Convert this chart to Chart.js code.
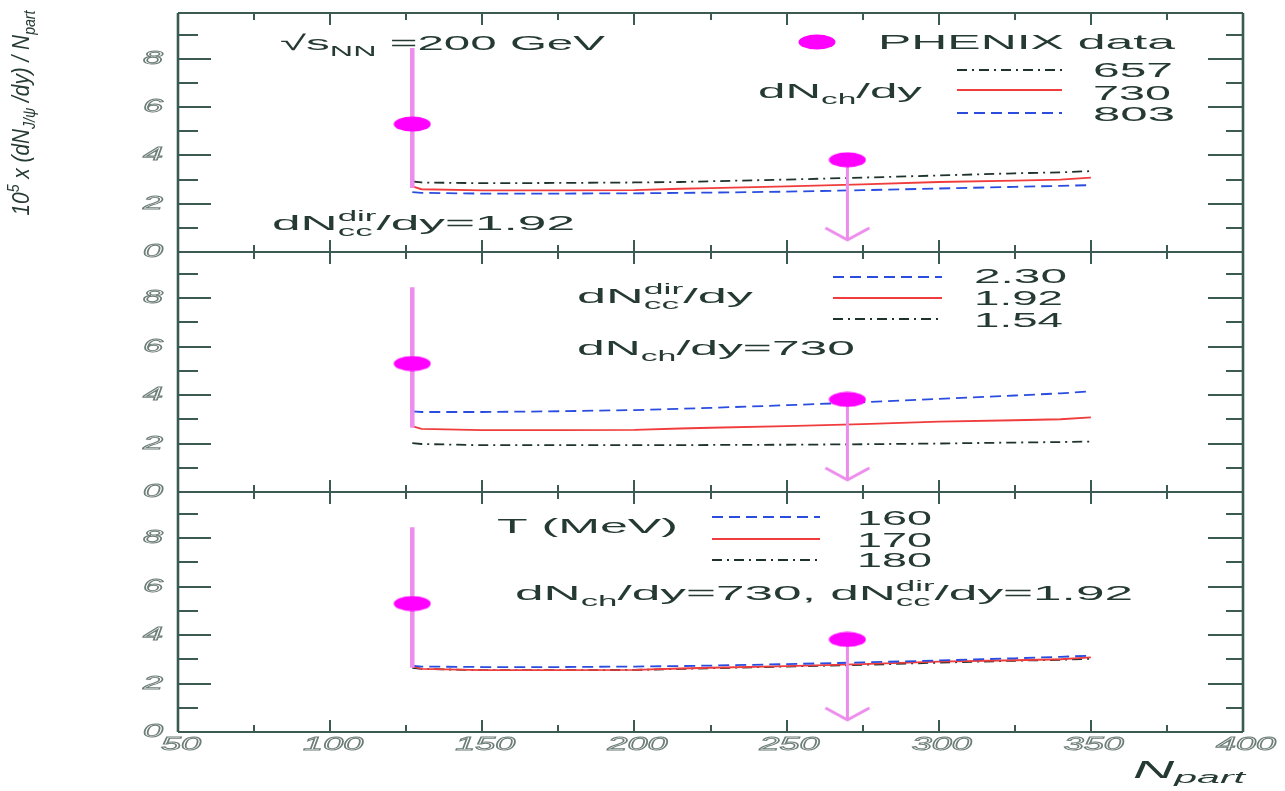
<!DOCTYPE html>
<html>
<head>
<meta charset="utf-8">
<script src="https://cdn.jsdelivr.net/npm/chart.js@4.4.1/dist/chart.umd.min.js"></script>
<style>
  html, body { margin: 0; padding: 0; background: #ffffff; }
  #wrap { position: relative; width: 1285px; height: 791px; }
  #wrap canvas { position: absolute; left: 0; top: 0; }
</style>
</head>
<body>
<div id="wrap">
  <canvas id="p1" width="1285" height="791"></canvas>
  <canvas id="p2" width="1285" height="791"></canvas>
  <canvas id="p3" width="1285" height="791"></canvas>
</div>
<script>
// ---- data -------------------------------------------------------------
// Number of participants at which the model curves are evaluated
const N_PART = [127, 130, 150, 175, 200, 215, 225, 250, 275, 300, 325, 340, 350];

// Panel 1: charged multiplicity dN_ch/dy varied
const NCH_657 = [2.92, 2.88, 2.85, 2.86, 2.88, 2.90, 2.93, 3.00, 3.08, 3.17, 3.26, 3.30, 3.35];
const NCH_730 = [2.72, 2.60, 2.55, 2.55, 2.56, 2.62, 2.65, 2.72, 2.80, 2.90, 2.96, 3.00, 3.08];
const NCH_803 = [2.48, 2.45, 2.42, 2.42, 2.43, 2.45, 2.46, 2.50, 2.56, 2.63, 2.70, 2.74, 2.77];

// Panel 2: direct charm yield dN_cc/dy varied
const NCC_230 = [3.33, 3.30, 3.30, 3.33, 3.38, 3.43, 3.47, 3.58, 3.70, 3.84, 3.98, 4.07, 4.15];
const NCC_192 = [2.72, 2.60, 2.55, 2.55, 2.56, 2.62, 2.65, 2.72, 2.80, 2.90, 2.96, 3.00, 3.08];
const NCC_154 = [2.02, 1.98, 1.93, 1.93, 1.93, 1.93, 1.94, 1.95, 1.97, 2.00, 2.04, 2.06, 2.08];

// Panel 3: temperature T (MeV) varied
const T_160 = [2.74, 2.70, 2.68, 2.68, 2.70, 2.72, 2.74, 2.80, 2.87, 2.95, 3.04, 3.10, 3.15];
const T_170 = [2.72, 2.60, 2.55, 2.55, 2.56, 2.62, 2.65, 2.72, 2.80, 2.90, 2.96, 3.00, 3.08];
const T_180 = [2.65, 2.60, 2.55, 2.55, 2.56, 2.60, 2.63, 2.70, 2.77, 2.86, 2.94, 2.98, 3.02];

// PHENIX measurements (second point is an upper limit)
const PHENIX_NPART  = [127, 270];
const PHENIX_VAL    = [5.3, 3.82];
const PHENIX_ERR_HI = [8.45, null];
const PHENIX_ERR_LO = [2.65, null];
const PHENIX_LIMIT  = [null, 0.5];

// Axis ticks
const X_TICKS = [50, 100, 150, 200, 250, 300, 350, 400];
const X_MINOR = [75, 125, 175, 225, 275, 325, 375];
const Y_TICKS = [0, 2, 4, 6, 8];
const Y_MINOR = [1, 3, 5, 7, 9];
const X_MIN = 50, X_MAX = 400, Y_MIN = 0, Y_MAX = 9.9;

// ---- styling -----------------------------------------------------------
const AXIS = '#3a5a52';
const TEXT = '#263a34';
const TICK_TEXT = '#6c7c77';
const FONT = '"Liberation Sans", Arial, Helvetica, sans-serif';
const STYLES = {
  dashdot: { color: '#1e332d', dash: [10, 5, 2, 5], width: 1.8 },
  solid:   { color: '#f03c3c', dash: [],           width: 1.8 },
  dash:    { color: '#2a4de0', dash: [11, 6],       width: 1.8 }
};
const DATA_POINT = '#ff00ff';
const DATA_BAR = '#ec8cec';

// Marker shapes
const ellipseMark = (() => {
  const c = document.createElement('canvas');
  c.width = 38; c.height = 16;
  const g = c.getContext('2d');
  g.fillStyle = DATA_POINT;
  g.beginPath();
  g.ellipse(19, 8, 18.5, 7.5, 0, 0, Math.PI * 2);
  g.fill();
  return c;
})();
const arrowHead = (() => {
  const c = document.createElement('canvas');
  c.width = 48; c.height = 28;
  const g = c.getContext('2d');
  g.strokeStyle = DATA_BAR;
  g.lineWidth = 3;
  g.lineJoin = 'round';
  g.beginPath();
  g.moveTo(2, 2); g.lineTo(24, 14); g.lineTo(46, 2);
  g.stroke();
  return c;
})();

// ---- text helper: runs of text with sub/superscripts -------------------
function rich(ctx, x, y, parts, size, width, opts = {}) {
  const f = (s) => `${opts.italic ? 'italic ' : ''}${opts.weight || 'normal'} ${s}px ${FONT}`;
  const small = size * (opts.smallRatio || 0.68);
  ctx.save();
  let natural = 0;
  for (const p of parts) {
    if (typeof p === 'string') { ctx.font = f(size); natural += ctx.measureText(p).width; }
    else {
      ctx.font = f(small);
      natural += Math.max(p.sub ? ctx.measureText(p.sub).width : 0, p.sup ? ctx.measureText(p.sup).width : 0);
    }
  }
  const sx = width ? width / natural : (opts.sx || 1);
  ctx.translate(x, y);
  if (opts.rotate) ctx.rotate(opts.rotate);
  ctx.scale(sx, 1);
  ctx.fillStyle = opts.color || TEXT;
  ctx.textAlign = 'left';
  ctx.textBaseline = 'alphabetic';
  let cx = opts.center ? -natural / 2 : 0;
  for (const p of parts) {
    if (typeof p === 'string') {
      ctx.font = f(size);
      ctx.fillText(p, cx, 0);
      cx += ctx.measureText(p).width;
    } else {
      ctx.font = f(small);
      let w = 0;
      if (p.sub) { ctx.fillText(p.sub, cx, size * (opts.subShift || 0.28)); w = ctx.measureText(p.sub).width; }
      if (p.sup) { ctx.fillText(p.sup, cx, -size * 0.42); w = Math.max(w, ctx.measureText(p.sup).width); }
      cx += w;
    }
  }
  ctx.restore();
}

function tickLabel(ctx, text, x, y) {
  ctx.save();
  ctx.translate(x, y);
  ctx.scale(2, 1);
  ctx.font = `italic normal 18px ${FONT}`;
  ctx.textAlign = 'center';
  ctx.textBaseline = 'middle';
  ctx.strokeStyle = TICK_TEXT;
  ctx.lineWidth = 0.9;
  ctx.strokeText(text, 0, 0);
  ctx.restore();
}

// ---- panel descriptions --------------------------------------------------
const PANELS = [
  {
    id: 'p1', top: 12,
    series: [
      { values: NCH_657, style: 'dashdot' },
      { values: NCH_730, style: 'solid' },
      { values: NCH_803, style: 'dash' }
    ],
    legend: { x0: 957, x1: 1062, rows: [70, 90, 113], labels: ['657', '730', '803'], lx: 1093, baselines: [77, 100, 121], widths: [80, 78, 82] },
    notes(ctx) {
      rich(ctx, 280, 50, ['\u221As', { sub: 'NN' }, ' =200 GeV'], 21, 325);
      ctx.drawImage(ellipseMark, 817 - 19, 42 - 8);
      rich(ctx, 878, 49, ['PHENIX data'], 21, 297);
      rich(ctx, 758, 98, ['dN', { sub: 'ch' }, '/dy'], 21, 164);
      rich(ctx, 272, 230, ['dN', { sub: 'cc', sup: 'dir' }, '/dy=1.92'], 21, 303);
    }
  },
  {
    id: 'p2', top: 252,
    series: [
      { values: NCC_230, style: 'dash' },
      { values: NCC_192, style: 'solid' },
      { values: NCC_154, style: 'dashdot' }
    ],
    legend: { x0: 833, x1: 942, rows: [277, 298, 319], labels: ['2.30', '1.92', '1.54'], lx: 974, baselines: [283, 305, 327], widths: [93, 89, 89] },
    notes(ctx) {
      rich(ctx, 577, 303, ['dN', { sub: 'cc', sup: 'dir' }, '/dy'], 21, 176);
      rich(ctx, 577, 355, ['dN', { sub: 'ch' }, '/dy=730'], 21, 278);
    }
  },
  {
    id: 'p3', top: 492,
    series: [
      { values: T_160, style: 'dash' },
      { values: T_170, style: 'solid' },
      { values: T_180, style: 'dashdot' }
    ],
    legend: { x0: 712, x1: 820, rows: [517, 539, 560], labels: ['160', '170', '180'], lx: 857, baselines: [525, 547, 567], widths: [75, 75, 75] },
    notes(ctx) {
      rich(ctx, 497, 533, ['T (MeV)'], 21, 181);
      rich(ctx, 515, 600, ['dN', { sub: 'ch' }, '/dy=730, dN', { sub: 'cc', sup: 'dir' }, '/dy=1.92'], 21, 618);
    },
    bottom: true
  }
];

const PANEL_H = 240, LEFT = 178, RIGHT = 1243, W = 1285, H = 791;

// Frame, inward ticks and tick labels of one panel
const framePlugin = {
  id: 'frame',
  beforeDatasetsDraw(chart, args, o) {
    const { ctx, chartArea: a, scales: { x, y } } = chart;
    const panel = o.panel;
    ctx.save();
    ctx.strokeStyle = AXIS;
    ctx.lineCap = 'butt';
    // box
    ctx.lineWidth = 2;
    ctx.beginPath();
    ctx.moveTo(a.left, a.top); ctx.lineTo(a.right, a.top);
    ctx.moveTo(a.left, a.bottom); ctx.lineTo(a.right, a.bottom);
    ctx.stroke();
    ctx.lineWidth = 2.6;
    ctx.beginPath();
    ctx.moveTo(a.left, a.top); ctx.lineTo(a.left, a.bottom);
    ctx.moveTo(a.right, a.top); ctx.lineTo(a.right, a.bottom);
    ctx.stroke();
    // y ticks, both sides
    ctx.lineWidth = 2;
    ctx.beginPath();
    for (const v of Y_TICKS) {
      const py = Math.round(y.getPixelForValue(v));
      if (v === Y_MIN) continue;
      ctx.moveTo(a.left, py); ctx.lineTo(a.left + 33, py);
      ctx.moveTo(a.right, py); ctx.lineTo(a.right - 35, py);
    }
    for (const v of Y_MINOR) {
      const py = Math.round(y.getPixelForValue(v));
      ctx.moveTo(a.left, py); ctx.lineTo(a.left + 20, py);
      ctx.moveTo(a.right, py); ctx.lineTo(a.right - 17, py);
    }
    // x ticks at bottom and top edges
    for (const v of X_TICKS) {
      const px = Math.round(x.getPixelForValue(v));
      if (v === X_MIN || v === X_MAX) continue;
      ctx.moveTo(px, a.bottom); ctx.lineTo(px, a.bottom - 12);
      ctx.moveTo(px, a.top); ctx.lineTo(px, a.top + 12);
    }
    for (const v of X_MINOR) {
      const px = Math.round(x.getPixelForValue(v));
      ctx.moveTo(px, a.bottom); ctx.lineTo(px, a.bottom - 7);
      ctx.moveTo(px, a.top); ctx.lineTo(px, a.top + 7);
    }
    ctx.stroke();
    // tick labels
    for (const v of Y_TICKS) tickLabel(ctx, String(v), 153, y.getPixelForValue(v));
    if (panel.bottom) {
      for (const v of X_TICKS) tickLabel(ctx, String(v), x.getPixelForValue(v) + 3, a.bottom + 13);
    }
    ctx.restore();
  },
  afterDatasetsDraw(chart, args, o) {
    const { ctx } = chart;
    const panel = o.panel;
    // legend samples drawn with the datasets' own line styles
    const lg = panel.legend;
    panel.series.forEach((s, i) => {
      const st = STYLES[s.style];
      ctx.save();
      ctx.strokeStyle = st.color;
      ctx.lineWidth = st.width + 0.3;
      ctx.setLineDash(st.dash);
      ctx.beginPath();
      ctx.moveTo(lg.x0, lg.rows[i]); ctx.lineTo(lg.x1, lg.rows[i]);
      ctx.stroke();
      ctx.restore();
      rich(ctx, lg.lx, lg.baselines[i], [lg.labels[i]], 20, lg.widths[i]);
    });
    panel.notes(ctx);
    if (panel.id === 'p1') {
      // y-axis title
      rich(ctx, 29, 113, ['10', { sup: '5' }, ' x (dN', { sub: 'J/\u03C8' }, ' /dy) / N', { sub: 'part' }], 23, 205,
        { italic: true, rotate: -Math.PI / 2, center: true });
    }
    if (panel.bottom) {
      rich(ctx, 1133, 778, ['N', { sub: 'part' }], 23, 112, { italic: true, smallRatio: 0.72, subShift: 0.2 });
    }
  }
};

function buildDatasets(panel) {
  const sets = [];
  // measured points
  sets.push({
    data: PHENIX_NPART.map((n, i) => ({ x: n, y: PHENIX_VAL[i] })),
    showLine: false,
    pointStyle: ellipseMark,
    pointRadius: 10,
    clip: false
  });
  // error bars
  PHENIX_NPART.forEach((n, i) => {
    if (PHENIX_ERR_HI[i] == null) return;
    sets.push({
      data: [{ x: n, y: PHENIX_ERR_LO[i] }, { x: n, y: PHENIX_ERR_HI[i] }],
      borderColor: DATA_BAR, borderWidth: 4.5, pointRadius: 0
    });
  });
  // upper-limit arrows
  PHENIX_NPART.forEach((n, i) => {
    if (PHENIX_LIMIT[i] == null) return;
    sets.push({
      data: [{ x: n, y: PHENIX_VAL[i] }, { x: n, y: PHENIX_LIMIT[i] }],
      borderColor: DATA_BAR, borderWidth: 3,
      pointStyle: arrowHead,
      pointRadius: (c) => (c.dataIndex === 1 ? 10 : 0),
      clip: false
    });
  });
  // model curves
  panel.series.forEach((s) => {
    const st = STYLES[s.style];
    sets.push({
      data: N_PART.map((n, i) => ({ x: n, y: s.values[i] })),
      borderColor: st.color, borderWidth: st.width, borderDash: st.dash,
      pointRadius: 0, tension: 0
    });
  });
  return sets;
}

PANELS.forEach((panel) => {
  new Chart(document.getElementById(panel.id), {
    type: 'line',
    data: { datasets: buildDatasets(panel) },
    options: {
      responsive: false,
      animation: false,
      devicePixelRatio: 1,
      events: [],
      layout: { padding: { left: LEFT, right: W - RIGHT, top: panel.top, bottom: H - panel.top - PANEL_H } },
      scales: {
        x: { type: 'linear', min: X_MIN, max: X_MAX, display: false },
        y: { type: 'linear', min: Y_MIN, max: Y_MAX, display: false }
      },
      plugins: { legend: { display: false }, tooltip: { enabled: false }, frame: { panel } }
    },
    plugins: [framePlugin]
  });
});
</script>
</body>
</html>
